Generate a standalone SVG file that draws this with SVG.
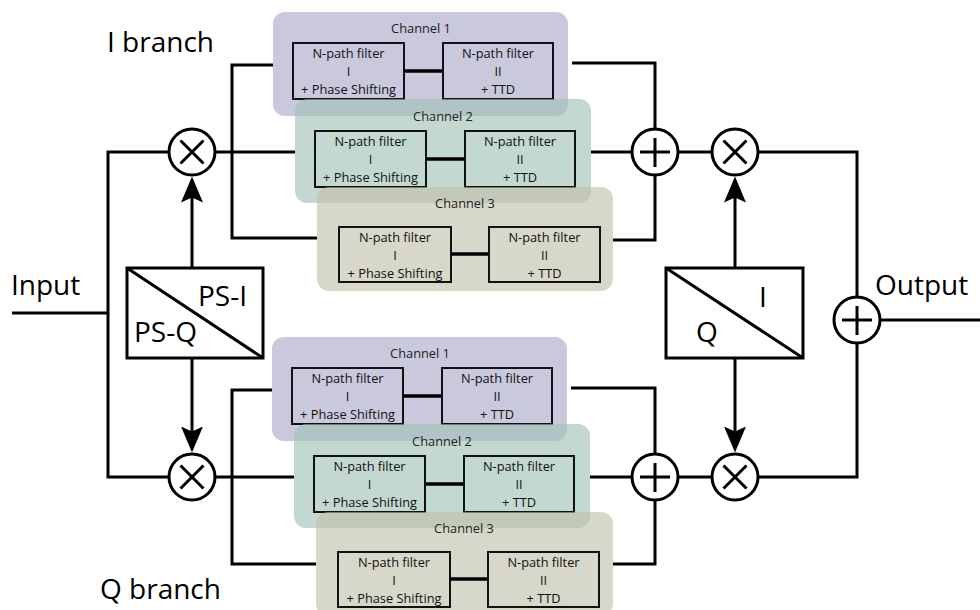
<svg xmlns="http://www.w3.org/2000/svg" width="980" height="610" viewBox="0 0 980 610">
  <style>
    .wire { fill: none; stroke: #000; stroke-width: 3; }
    .box { fill: none; stroke: #111; stroke-width: 2; }
    .blk { fill: #fff; stroke: #000; stroke-width: 3; }
    .op { fill: #fff; stroke: #000; stroke-width: 3; }
    .glyph { stroke: #000; stroke-width: 3; fill: none; }
    .big { font-family: "Open Sans", "Noto Sans", sans-serif; font-size: 28px; fill: #000; }
    .small { font-family: "Open Sans", "Noto Sans", sans-serif; font-size: 12.8px; fill: #111; text-anchor: middle; }
    .ttl { font-family: "Open Sans", "Noto Sans", sans-serif; font-size: 12.8px; fill: #222; text-anchor: middle; }
    .p1 { fill: rgb(170,166,199); fill-opacity: 0.62; }
    .p2 { fill: rgb(160,192,182); fill-opacity: 0.62; }
    .p3 { fill: rgb(192,192,170); fill-opacity: 0.62; }
    .link { stroke: #000; stroke-width: 3.5; }
  </style>
  <defs>
    <marker id="arrow" viewBox="0 0 26 22" markerWidth="26" markerHeight="22" refX="6" refY="11" orient="auto" markerUnits="userSpaceOnUse">
      <path d="M26,11 L0,0 L5,11 L0,22 Z" fill="#000"/>
    </marker>
    <!-- one filter channel: two N-path blocks and their link -->
    <g id="chanA">
      <rect class="box" x="20" y="31" width="111" height="56"/>
      <text class="small" x="75.5" y="46">N-path filter</text>
      <text class="small" x="75.5" y="64">I</text>
      <text class="small" x="75.5" y="82">+ Phase Shifting</text>
      <line class="link" x1="131" y1="59" x2="170" y2="59"/>
      <rect class="box" x="170" y="31" width="110" height="56"/>
      <text class="small" x="225" y="46">N-path filter</text>
      <text class="small" x="225" y="64">II</text>
      <text class="small" x="225" y="82">+ TTD</text>
    </g>
    <g id="chanB">
      <rect class="box" x="22" y="40" width="112" height="55"/>
      <text class="small" x="78" y="55">N-path filter</text>
      <text class="small" x="78" y="73">I</text>
      <text class="small" x="78" y="91">+ Phase Shifting</text>
      <line class="link" x1="134" y1="67" x2="172" y2="67"/>
      <rect class="box" x="172" y="40" width="111" height="55"/>
      <text class="small" x="227.5" y="55">N-path filter</text>
      <text class="small" x="227.5" y="73">II</text>
      <text class="small" x="227.5" y="91">+ TTD</text>
    </g>
  </defs>

  <rect width="980" height="610" fill="#fff"/>

  <!-- wiring -->
  <g id="connectors">
    <path class="wire" d="M12,313 H108"/>
    <path class="wire" d="M169,152 H108 V477 H169"/>
    <!-- I branch -->
    <path class="wire" d="M215,152 H295"/>
    <path class="wire" d="M273,65 H232 V238 H317"/>
    <path class="wire" d="M572,63 H655 V240 H613"/>
    <path class="wire" d="M591,152 H632"/>
    <path class="wire" d="M678,152 H712"/>
    <path class="wire" d="M758,152 H857 V296"/>
    <!-- Q branch -->
    <path class="wire" d="M215,477 H294"/>
    <path class="wire" d="M272,390 H232 V564 H316"/>
    <path class="wire" d="M571,388 H655 V564 H613"/>
    <path class="wire" d="M590,477 H632"/>
    <path class="wire" d="M678,477 H712"/>
    <path class="wire" d="M758,477 H857 V344"/>
    <path class="wire" d="M880,320 H980"/>
    <!-- LO feeds -->
    <path class="wire" d="M192,268 V196.5" marker-end="url(#arrow)"/>
    <path class="wire" d="M192,358 V432.5" marker-end="url(#arrow)"/>
    <path class="wire" d="M735,268 V196.5" marker-end="url(#arrow)"/>
    <path class="wire" d="M735,358 V432.5" marker-end="url(#arrow)"/>
  </g>

  <!-- I branch channels -->
  <g id="i-ch1" transform="translate(273,12)">
    <rect class="p1" width="295" height="104" rx="12"/>
    <text class="ttl" x="148" y="21">Channel 1</text>
    <use href="#chanA"/>
  </g>
  <g id="i-ch2" transform="translate(295,99)">
    <rect class="p2" width="296" height="104" rx="12"/>
    <text class="ttl" x="148" y="22">Channel 2</text>
    <use href="#chanA" y="1"/>
  </g>
  <g id="i-ch3" transform="translate(317,187)">
    <rect class="p3" width="296" height="104" rx="12"/>
    <text class="ttl" x="148" y="21">Channel 3</text>
    <use href="#chanB"/>
  </g>

  <!-- Q branch channels -->
  <g id="q-ch1" transform="translate(272,337)">
    <rect class="p1" width="295" height="104" rx="12"/>
    <text class="ttl" x="148" y="21">Channel 1</text>
    <use href="#chanA"/>
  </g>
  <g id="q-ch2" transform="translate(294,424)">
    <rect class="p2" width="296" height="104" rx="12"/>
    <text class="ttl" x="148" y="22">Channel 2</text>
    <use href="#chanA" y="1"/>
  </g>
  <g id="q-ch3" transform="translate(316,512)">
    <rect class="p3" width="297" height="104" rx="12"/>
    <text class="ttl" x="148" y="21">Channel 3</text>
    <use href="#chanB"/>
  </g>

  <!-- phase splitters -->
  <g id="ps-split">
    <rect class="blk" x="127" y="268" width="136" height="90"/>
    <line class="glyph" x1="127" y1="268" x2="263" y2="358"/>
    <text class="big" x="198" y="306">PS-I</text>
    <text class="big" x="134" y="342">PS-Q</text>
  </g>
  <g id="iq-split">
    <rect class="blk" x="666" y="268" width="137" height="90"/>
    <line class="glyph" x1="666" y1="268" x2="803" y2="358"/>
    <text class="big" x="759" y="307">I</text>
    <text class="big" x="696" y="342">Q</text>
  </g>

  <!-- mixers -->
  <g id="mix-i-in"><circle class="op" cx="192" cy="152" r="23"/><path class="glyph" d="M180.5,140.5 L203.5,163.5 M203.5,140.5 L180.5,163.5"/></g>
  <g id="mix-q-in"><circle class="op" cx="192" cy="477" r="23"/><path class="glyph" d="M180.5,465.5 L203.5,488.5 M203.5,465.5 L180.5,488.5"/></g>
  <g id="mix-i-out"><circle class="op" cx="735" cy="152" r="23"/><path class="glyph" d="M723.5,140.5 L746.5,163.5 M746.5,140.5 L723.5,163.5"/></g>
  <g id="mix-q-out"><circle class="op" cx="735" cy="477" r="23"/><path class="glyph" d="M723.5,465.5 L746.5,488.5 M746.5,465.5 L723.5,488.5"/></g>

  <!-- summers -->
  <g id="sum-i"><circle class="op" cx="655" cy="152" r="23"/><path class="glyph" d="M640,152 H670 M655,138 V167"/></g>
  <g id="sum-q"><circle class="op" cx="655" cy="477" r="23"/><path class="glyph" d="M640,477 H670 M655,463 V492"/></g>
  <g id="sum-out"><circle class="op" cx="857" cy="320" r="23"/><path class="glyph" d="M842,320 H872 M857,306 V335"/></g>

  <!-- labels -->
  <text class="big" x="107" y="52">I branch</text>
  <text class="big" x="100" y="599">Q branch</text>
  <text class="big" x="11" y="295">Input</text>
  <text class="big" x="875" y="295">Output</text>
</svg>
